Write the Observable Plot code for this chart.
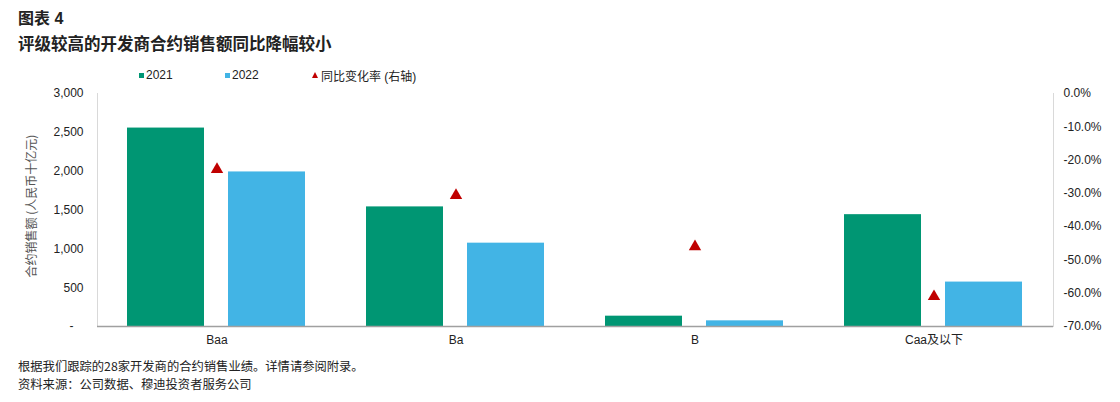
<!DOCTYPE html>
<html>
<head>
<meta charset="utf-8">
<script src="https://cdn.jsdelivr.net/npm/d3@7"></script>
<script src="https://cdn.jsdelivr.net/npm/@observablehq/plot@0.6"></script>
<style>
  html, body { margin: 0; padding: 0; background: #fff; }
  #wrap { position: relative; width: 1120px; height: 402px; overflow: hidden;
          font-family: "Liberation Sans", Arial, "Noto Sans CJK SC", sans-serif; color: #222; }
  .abs { position: absolute; white-space: nowrap; }
  #title1 { left: 18px; top: 5px; font-size: 16px; font-weight: bold; font-family: "Liberation Sans", Arial, "Noto Sans CJK SC", sans-serif; }
  #title2 { left: 18px; top: 31px; font-size: 16.5px; font-weight: bold; font-family: "Noto Sans CJK SC", sans-serif; }
  #legend { left: 0; top: 67px; font-size: 12px; color: #222; }
  .li { position: absolute; top: 0; display: flex; align-items: center; height: 16px; }
  .sw { width: 5px; height: 5px; margin-right: 2px; }
  .tri { width: 0; height: 0; border-left: 3px solid transparent; border-right: 3px solid transparent; border-bottom: 6px solid #c00000; margin-right: 3px; }
  #ylab { left: 30px; top: 206px; font-size: 12px; color: #555; font-family: "Noto Sans CJK SC", serif;
          transform: translate(-50%, -50%) rotate(-90deg); }
  #foot1 { left: 18px; top: 357px; font-size: 12.3px; font-family: "Noto Sans CJK SC", sans-serif; }
  #foot2 { left: 18px; top: 375px; font-size: 12.3px; font-family: "Noto Sans CJK SC", sans-serif; }
  #chart { position: absolute; left: 0; top: 80px; }
</style>
</head>
<body>
<div id="wrap">
  <div id="title1" class="abs">图表 4</div>
  <div id="title2" class="abs">评级较高的开发商合约销售额同比降幅较小</div>
  <div id="legend" class="abs"></div>
  <div id="ylab" class="abs">合约销售额 (人民币十亿元)</div>
  <div id="chart"></div>
  <div id="foot1" class="abs">根据我们跟踪的28家开发商的合约销售业绩。详情请参阅附录。</div>
  <div id="foot2" class="abs">资料来源：公司数据、穆迪投资者服务公司</div>
</div>
<script>
// ---- data ----
const ratings = ["Baa", "Ba", "B", "Caa及以下"];
const years = ["2021", "2022"];
const sales2021 = [2555, 1540, 133, 1440];
const sales2022 = [1990, 1073, 73, 572];
const yoyChange = [-22.8, -30.6, -46.0, -61.0]; // % (right axis)
const leftTicks = [0, 500, 1000, 1500, 2000, 2500, 3000];
const rightTicks = [0, -10, -20, -30, -40, -50, -60, -70];

const colors = ["#009673", "#42b4e5"];
const red = "#c00000";

// map right axis (% from -70 to 0) onto left axis units (0 to 3000)
const leftMax = 3000, pctMin = -70;
const pctToLeft = p => leftMax * (p - pctMin) / (0 - pctMin);
const leftToPct = v => v / leftMax * (0 - pctMin) + pctMin;

const bars = [];
ratings.forEach((r, i) => {
  bars.push({rating: r, year: years[0], value: sales2021[i]});
  bars.push({rating: r, year: years[1], value: sales2022[i]});
});
const yoy = ratings.map((r, i) => ({rating: r, pct: yoyChange[i], yv: pctToLeft(yoyChange[i])}));

// ---- legend ----
const legend = document.getElementById("legend");
legend.innerHTML = `
  <div class="li" style="left:139px"><div class="sw" style="background:${colors[0]}"></div>${years[0]}</div>
  <div class="li" style="left:225px"><div class="sw" style="background:${colors[1]}"></div>${years[1]}</div>
  <div class="li" style="left:312px"><div class="tri"></div>同比变化率 (右轴)</div>`;

// ---- chart ----
const fmt = d3.format(",");
const chart = Plot.plot({
  width: 1120,
  height: 270,
  marginTop: 13,
  marginBottom: 24,
  marginLeft: 96,
  marginRight: 67,
  style: {fontFamily: "'Liberation Sans', Arial, 'Noto Sans CJK SC', sans-serif", fontSize: "12px", color: "#222", background: "transparent"},
  fx: {domain: ratings, padding: 0, label: null},
  x: {domain: years, paddingInner: 0.235, paddingOuter: 0.294, axis: null},
  y: {domain: [0, leftMax], axis: null},
  color: {domain: years, range: colors},
  marks: [
    Plot.frame({anchor: "left", stroke: "#d9d9d9", facetAnchor: "left"}),
    Plot.frame({anchor: "right", stroke: "#d9d9d9", facetAnchor: "right"}),
    Plot.barY(bars, {fx: "rating", x: "year", y: "value", fill: "year"}),
    Plot.ruleY([0], {stroke: "#a0a0a0", strokeWidth: 1.5}),
    Plot.dot(yoy, {fx: "rating", y: "yv", symbol: "triangle", fill: red, r: 4.6}),
    Plot.axisY({anchor: "left", ticks: leftTicks, tickSize: 0, tickPadding: 14, label: null, fontSize: 12, fill: "#222",
      tickFormat: d => d === 0 ? "-   " : fmt(d)}),
    Plot.axisY({anchor: "right", ticks: rightTicks.map(pctToLeft), tickSize: 0, tickPadding: 10, label: null, fontSize: 12, fill: "#222",
      tickFormat: v => leftToPct(v).toFixed(1).replace("-0.0", "0.0") + "%"}),
    Plot.axisFx({anchor: "bottom", tickSize: 0, tickPadding: 9, label: null, fontSize: 12, fill: "#222"})
  ]
});
document.getElementById("chart").appendChild(chart);
</script>
</body>
</html>
